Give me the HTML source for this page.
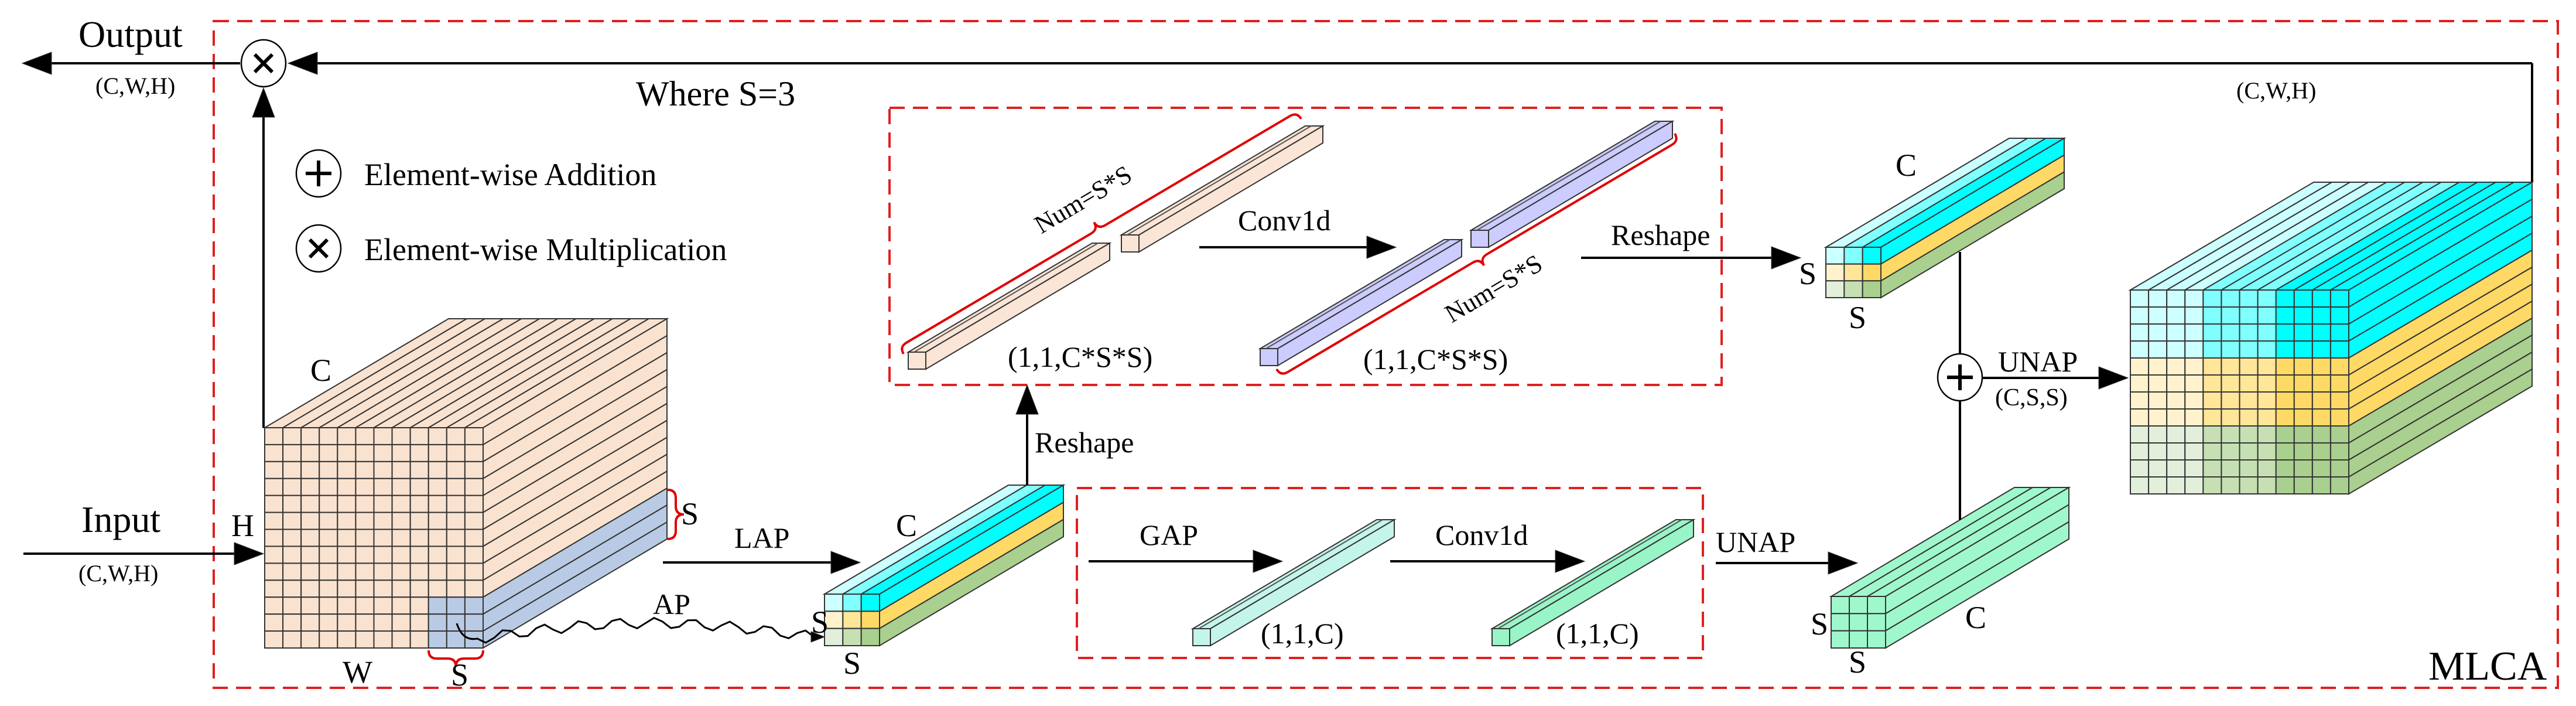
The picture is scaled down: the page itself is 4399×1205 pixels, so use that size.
<!DOCTYPE html>
<html><head><meta charset="utf-8"><style>
html,body{margin:0;padding:0;background:#fff;}
svg{display:block;}
text{font-family:"Liberation Serif",serif;fill:#000;}
</style></head><body>
<svg id="s" xmlns="http://www.w3.org/2000/svg" width="4399" height="1205" viewBox="0 0 4399 1205">
<rect width="4399" height="1205" fill="#fff"/>
<g fill="none" stroke="#e02020" stroke-width="4" stroke-dasharray="26,14">
<rect x="365" y="36" width="4003" height="1138"/>
<rect x="1519" y="184" width="1421" height="473"/>
<rect x="1839" y="833" width="1069" height="290"/>
</g>
<g id="g"></g>
<g font-size="64">
<text x="134" y="80">Output</text>
<text x="139" y="908">Input</text>
</g>
<g font-size="40">
<text x="163" y="160">(C,W,H)</text>
<text x="134" y="992">(C,W,H)</text>
<text x="3819" y="168">(C,W,H)</text>
</g>
<text x="1086" y="180" font-size="60">Where S=3</text>
<g font-size="54">
<text x="622" y="316">Element-wise Addition</text>
<text x="622" y="444">Element-wise Multiplication</text>
<text x="530" y="650">C</text>
<text x="395" y="915">H</text>
<text x="585" y="1165">W</text>
<text x="1163" y="895">S</text>
<text x="770" y="1170">S</text>
<text x="1530" y="915">C</text>
<text x="1385" y="1080">S</text>
<text x="1440" y="1150">S</text>
<text x="3237" y="300">C</text>
<text x="3072" y="485">S</text>
<text x="3157" y="560">S</text>
<text x="3092" y="1083">S</text>
<text x="3157" y="1148">S</text>
<text x="3356" y="1072">C</text>
</g>
<g font-size="50">
<text x="1254" y="935">LAP</text>
<text x="1115" y="1048">AP</text>
<text x="1767" y="772">Reshape</text>
<text x="2114" y="393">Conv1d</text>
<text x="2751" y="418">Reshape</text>
<text x="1946" y="930">GAP</text>
<text x="2451" y="930">Conv1d</text>
<text x="2930" y="942">UNAP</text>
<text x="3412" y="634">UNAP</text>
<text x="1721" y="626">(1,1,C*S*S)</text>
<text x="2328" y="630">(1,1,C*S*S)</text>
<text x="2153" y="1098">(1,1,C)</text>
<text x="2657" y="1098">(1,1,C)</text>
</g>
<text x="3407" y="692" font-size="42">(C,S,S)</text>
<text x="1857" y="353" font-size="44" text-anchor="middle" transform="rotate(-30.6 1857 353)">Num=S*S</text>
<text x="2558" y="505" font-size="44" text-anchor="middle" transform="rotate(-30.6 2558 505)">Num=S*S</text>
<text x="4147" y="1160" font-size="70">MLCA</text>
</svg>
<script>
var NS="http://www.w3.org/2000/svg",G=document.getElementById("g");
function el(t,a){var e=document.createElementNS(NS,t);for(var k in a)e.setAttribute(k,a[k]);G.appendChild(e);return e;}
function poly(pts,fill,sw){el("polygon",{points:pts.map(function(p){return p.join(",")}).join(" "),fill:fill,stroke:"#333","stroke-width":sw||2});}
function line(x1,y1,x2,y2,c,w){el("line",{x1:x1,y1:y1,x2:x2,y2:y2,stroke:c||"#000","stroke-width":w||4});}
function arrow(x1,y1,x2,y2){var dx=x2-x1,dy=y2-y1,L=Math.hypot(dx,dy),ux=dx/L,uy=dy/L,al=50,aw=19;
 line(x1,y1,x2-ux*al*0.8,y2-uy*al*0.8);
 poly([[x2,y2],[x2-ux*al-uy*aw,y2-uy*al+ux*aw],[x2-ux*al+uy*aw,y2-uy*al-ux*aw]],"#000",1);}
function cube(x,y,w,h,dx,dy,cols,rows,fc,tc,rc){
 var cw=w/cols,rh=h/rows;
 for(var i=0;i<cols;i++){var a=x+i*cw,b=a+cw;poly([[a,y],[b,y],[b+dx,y+dy],[a+dx,y+dy]],tc(i),2);}
 for(var j=0;j<rows;j++){var a=y+j*rh,b=a+rh;poly([[x+w,a],[x+w+dx,a+dy],[x+w+dx,b+dy],[x+w,b]],rc(j),2);}
 for(var i=0;i<cols;i++)for(var j=0;j<rows;j++)el("rect",{x:x+i*cw,y:y+j*rh,width:cw,height:rh,fill:fc(i,j),stroke:"#333","stroke-width":2});
}
function bar(x,y,c){cube(x,y,30,29,314,-186,1,1,function(){return c},function(){return c},function(){return c});
 line(x+10,y,x+324,y-186,"#555",2);}
function circ(cx,cy,sym){el("ellipse",{cx:cx,cy:cy,rx:38,ry:40,fill:"#fff",stroke:"#000","stroke-width":2.5});
 if(sym=="+"){line(cx-22,cy,cx+22,cy,"#000",6);line(cx,cy-22,cx,cy+22,"#000",6);}
 else{line(cx-15,cy-15,cx+15,cy+15,"#000",6);line(cx-15,cy+15,cx+15,cy-15,"#000",6);}}
function brace(p0,p1,nx,ny){var dx=p1[0]-p0[0],dy=p1[1]-p0[1],L=Math.hypot(dx,dy),ux=dx/L,uy=dy/L;
 var m=[(p0[0]+p1[0])/2,(p0[1]+p1[1])/2];
 function P(b,a,n){return (b[0]+ux*a+nx*n)+","+(b[1]+uy*a+ny*n);}
 el("path",{d:"M"+P(p0,0,0)+" Q"+P(p0,0,14)+" "+P(p0,14,14)+" L"+P(m,-14,14)+" Q"+P(m,0,14)+" "+P(m,0,28)+" Q"+P(m,0,14)+" "+P(m,14,14)+" L"+P(p1,-14,14)+" Q"+P(p1,0,14)+" "+P(p1,0,0),fill:"none",stroke:"#e00000","stroke-width":4});}

/* top feedback line */
line(4324,311,4324,108);line(4324,108,540,108);
arrow(600,108,492,108);
arrow(410,108,38,108);
circ(450,108,"x");
arrow(450,730,450,150);
circ(544,296,"+");circ(544,424,"x");
arrow(40,945,450,945);

/* input cube */
var peach="#f9e2cf",blue="#b9cbe4";
cube(452,730,373,376,314,-186,12,13,function(i,j){return (i>=9&&j>=10)?blue:peach},function(){return peach},function(j){return j>=10?blue:peach});
brace([1140,836],[1140,920],1,0);
brace([732,1110],[825,1110],0,1);

arrow(1132,960,1469,960);
/* AP wavy */
(function(){var d="M780,1064 Q790,1095 815,1090";var x0=815,y0=1090,x1=1390,y1=1087;for(var k=0;k<=40;k++){var t=k/40,x=x0+(x1-x0)*t,y=y0+(y1-y0)*t+Math.sin(t*Math.PI*18)*9-(Math.sin(t*Math.PI)*25);d+=" L"+x.toFixed(1)+","+y.toFixed(1);}
 el("path",{d:d,fill:"none",stroke:"#000","stroke-width":3});
 poly([[1408,1087],[1385,1078],[1385,1096]],"#000",1);})();

var topC=["#ccffff","#80ffff","#00ffff"],fr=[["#ccffff","#80ffff","#00ffff"],["#fff2cc","#ffe699","#ffd966"],["#e2efda","#c6e0b4","#a9d08e"]],rc=["#00ffff","#ffd966","#a9d08e"];
/* LAP cube */
cube(1408,1014,94,88,314,-186,3,3,function(i,j){return fr[j][i]},function(i){return topC[i]},function(j){return rc[j]});
arrow(1754,828,1754,657);
/* bars */
bar(1551,601,"#fbe5d6");bar(1915,401,"#fbe5d6");
brace([1543,604],[2222,203],-0.51,-0.86);
arrow(2048,422,2384,422);
bar(2152,595,"#ccccff");bar(2512,393,"#ccccff");
brace([2180,630],[2860,228],0.51,0.86);
arrow(2700,440,3075,440);
/* upper cube */
cube(3118,422,94,86,313,-186,3,3,function(i,j){return fr[j][i]},function(i){return topC[i]},function(j){return rc[j]});
arrow(1859,958,2190,958);
bar(2037,1073,"#c4f5ea");
arrow(2374,958,2706,958);
bar(2548,1073,"#99f5c8");
arrow(2930,961,3172,961);
/* lower cube */
var gr="#9ff8cc";
cube(3127,1018,93,88,313,-186,3,3,function(){return gr},function(){return gr},function(){return gr});
line(3347,430,3347,887);
circ(3347,644,"+");
arrow(3386,645,3634,645);
/* big cube */
cube(3638,495,373,348,313,-184,12,12,function(i,j){return fr[Math.floor(j/4)][Math.floor(i/4)]},function(i){return topC[Math.floor(i/4)]},function(j){return rc[Math.floor(j/4)]});
</script>
</body></html>
